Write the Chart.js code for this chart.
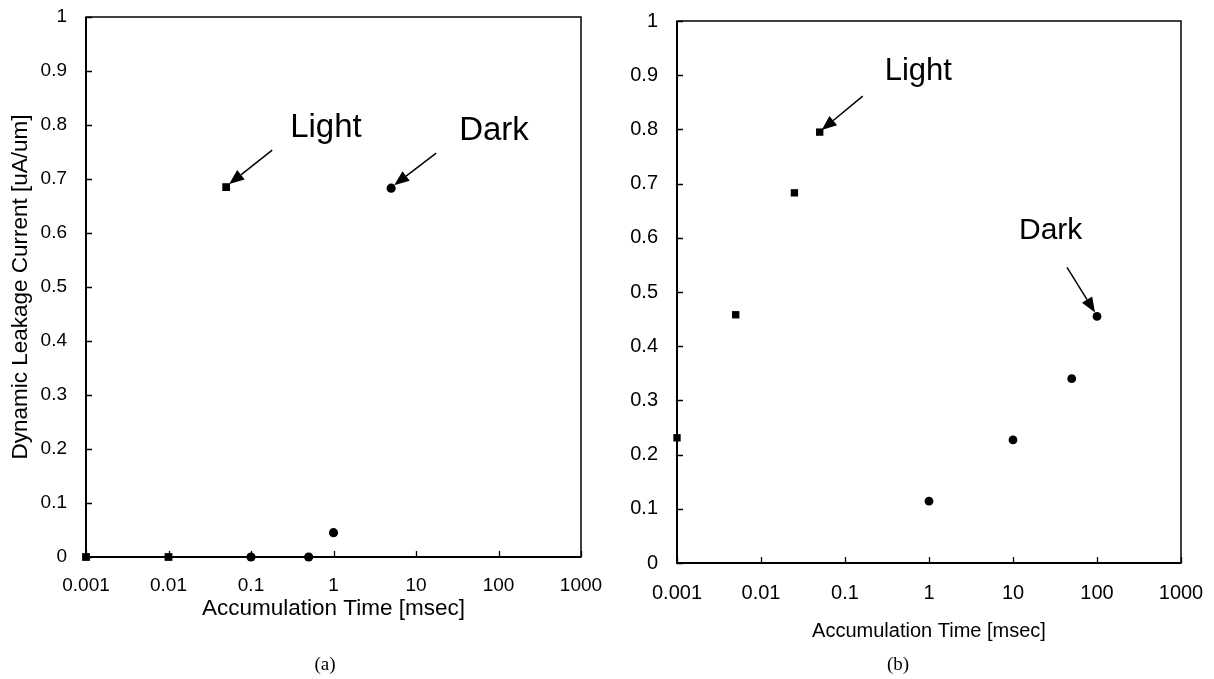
<!DOCTYPE html>
<html><head><meta charset="utf-8">
<script src="https://cdn.jsdelivr.net/npm/chart.js@4.4.1/dist/chart.umd.min.js"></script>
<style>
html,body{margin:0;padding:0;background:#fff;overflow:hidden}
#wrap{position:relative;width:1214px;height:679px;background:#fff}
.box{position:absolute;top:0;width:607px;height:679px}
</style></head><body>
<div id="wrap">
<div class="box" style="left:0"><canvas id="ca" width="607" height="679"></canvas></div>
<div class="box" style="left:607px"><canvas id="cb" width="607" height="679"></canvas></div>
</div>
<script>
// ---- data ----
const xTickValues = [0.001, 0.01, 0.1, 1, 10, 100, 1000];
const xTickLabels = ['0.001', '0.01', '0.1', '1', '10', '100', '1000'];
const yTickValues = [0, 0.1, 0.2, 0.3, 0.4, 0.5, 0.6, 0.7, 0.8, 0.9, 1];
const yTickLabels = ['0', '0.1', '0.2', '0.3', '0.4', '0.5', '0.6', '0.7', '0.8', '0.9', '1'];

const xTitle = 'Accumulation Time [msec]';
const yTitle = 'Dynamic Leakage Current [uA/um]';

// panel (a)
const aLightTime = [0.001, 0.01, 0.05];
const aLightCurrent = [0, 0, 0.685];
const aDarkTime = [0.1, 0.5, 1, 5];
const aDarkCurrent = [0, 0, 0.045, 0.683];

// panel (b)
const bLightTime = [0.001, 0.005, 0.025, 0.05];
const bLightCurrent = [0.231, 0.458, 0.683, 0.795];
const bDarkTime = [1, 10, 50, 100];
const bDarkCurrent = [0.114, 0.227, 0.34, 0.455];

const FONT = "'Liberation Sans', Arial, sans-serif";

function pts(xs, ys) { return xs.map((x, i) => ({ x: x, y: ys[i] })); }

const framePlugin = {
  id: 'frame',
  beforeDatasetsDraw(chart, args, o) {
    const { ctx, chartArea: a, scales: { x, y } } = chart;
    ctx.save();
    ctx.strokeStyle = '#000';
    ctx.lineCap = 'butt';
    ctx.lineWidth = 1.3;
    ctx.beginPath();
    x.ticks.forEach(t => {
      const px = Math.round(x.getPixelForValue(t.value)) + 0.5;
      ctx.moveTo(px, a.bottom); ctx.lineTo(px, a.bottom - o.tickLen);
    });
    y.ticks.forEach(t => {
      const py = Math.round(y.getPixelForValue(t.value)) + 0.5;
      ctx.moveTo(a.left, py); ctx.lineTo(a.left + o.tickLen, py);
    });
    ctx.stroke();
    ctx.lineWidth = 1.5;
    ctx.strokeRect(a.left, a.top, a.right - a.left, a.bottom - a.top);
    ctx.lineWidth = 2;
    ctx.beginPath();
    ctx.moveTo(a.left, a.top); ctx.lineTo(a.left, a.bottom); ctx.lineTo(a.right, a.bottom);
    ctx.stroke();
    ctx.restore();
  },
  afterDatasetsDraw(chart, args, o) {
    const { ctx, scales: { x, y } } = chart;
    ctx.save();
    ctx.fillStyle = '#000';
    ctx.strokeStyle = '#000';
    (o.notes || []).forEach(n => {
      const d = chart.data.datasets[n.ds].data[n.idx];
      const px = x.getPixelForValue(d.x), py = y.getPixelForValue(d.y);
      ctx.font = n.size + 'px ' + FONT;
      ctx.textAlign = 'left';
      ctx.textBaseline = 'alphabetic';
      ctx.fillText(n.text, px + n.tx, py + n.ty);
      const x0 = px + n.ax, y0 = py + n.ay, x1 = px + n.hx, y1 = py + n.hy;
      const ang = Math.atan2(y1 - y0, x1 - x0);
      const L = 15, W = 6;
      const bx = x1 - L * Math.cos(ang), by = y1 - L * Math.sin(ang);
      ctx.lineWidth = 1.5;
      ctx.beginPath(); ctx.moveTo(x0, y0); ctx.lineTo(bx, by); ctx.stroke();
      ctx.beginPath();
      ctx.moveTo(x1, y1);
      ctx.lineTo(bx + W * Math.sin(ang), by - W * Math.cos(ang));
      ctx.lineTo(bx - W * Math.sin(ang), by + W * Math.cos(ang));
      ctx.closePath(); ctx.fill();
    });
    ctx.font = o.capSize + "px 'Liberation Serif', 'Times New Roman', serif";
    ctx.textAlign = 'center';
    ctx.textBaseline = 'middle';
    ctx.fillText(o.caption, o.capX, o.capY);
    ctx.restore();
  }
};

function makeChart(id, cfg) {
  return new Chart(document.getElementById(id), {
    type: 'scatter',
    data: {
      datasets: [
        { label: 'Light', data: cfg.light, pointStyle: 'rect', pointRadius: cfg.rectR, pointHoverRadius: cfg.rectR,
          backgroundColor: '#000', borderColor: '#000', borderWidth: 0, clip: false },
        { label: 'Dark', data: cfg.dark, pointStyle: 'circle', pointRadius: cfg.circR, pointHoverRadius: cfg.circR,
          backgroundColor: '#000', borderColor: '#000', borderWidth: 0, clip: false }
      ]
    },
    options: {
      responsive: false,
      animation: false,
      devicePixelRatio: 1,
      layout: { padding: cfg.pad },
      plugins: {
        legend: { display: false },
        tooltip: { enabled: false },
        frame: cfg.frame
      },
      scales: {
        x: {
          type: 'logarithmic',
          min: xTickValues[0], max: xTickValues[xTickValues.length - 1],
          afterBuildTicks: s => { s.ticks = xTickValues.map(v => ({ value: v })); },
          afterFit: s => { s.height = cfg.xH; s.paddingLeft = 0; s.paddingRight = 0; },
          grid: { display: false, drawTicks: false },
          border: { display: false },
          ticks: {
            autoSkip: false, maxRotation: 0, minRotation: 0,
            padding: cfg.xTickPad, color: '#000',
            font: { family: FONT, size: cfg.tickSize },
            callback: (v, i) => xTickLabels[i]
          },
          title: {
            display: true, text: xTitle, color: '#000',
            font: { family: FONT, size: cfg.titleSize },
            padding: { top: 0, bottom: cfg.xTitlePad }
          }
        },
        y: {
          type: 'linear',
          min: yTickValues[0], max: yTickValues[yTickValues.length - 1],
          afterBuildTicks: s => { s.ticks = yTickValues.map(v => ({ value: v })); },
          afterFit: s => { s.width = cfg.yW; s.paddingTop = 0; s.paddingBottom = 0; },
          grid: { display: false, drawTicks: false },
          border: { display: false },
          ticks: {
            padding: 19, color: '#000',
            font: { family: FONT, size: cfg.tickSize },
            callback: (v, i) => yTickLabels[i]
          },
          title: {
            display: cfg.showYTitle, text: yTitle, color: '#000',
            font: { family: FONT, size: cfg.titleSize },
            padding: { top: 7, bottom: 0 }
          }
        }
      }
    },
    plugins: [framePlugin]
  });
}

makeChart('ca', {
  light: pts(aLightTime, aLightCurrent),
  dark: pts(aDarkTime, aDarkCurrent),
  rectR: 5.5, circR: 4.6,
  pad: { left: 0, top: 17, right: 26, bottom: 0 },
  xH: 122, yW: 86, xTickPad: 17, xTitlePad: 57,
  tickSize: 19, titleSize: 22.5, showYTitle: true,
  frame: {
    tickLen: 6,
    caption: '(a)', capX: 325, capY: 665, capSize: 19,
    notes: [
      { ds: 0, idx: 2, text: 'Light', size: 33, tx: 64, ty: -50, ax: 46, ay: -37, hx: 3, hy: -3 },
      { ds: 1, idx: 3, text: 'Dark', size: 33, tx: 68, ty: -48, ax: 45, ay: -35, hx: 3, hy: -3 }
    ]
  }
});

makeChart('cb', {
  light: pts(bLightTime, bLightCurrent),
  dark: pts(bDarkTime, bDarkCurrent),
  rectR: 5.2, circR: 4.4,
  pad: { left: 0, top: 21, right: 33, bottom: 0 },
  xH: 116, yW: 70, xTickPad: 18, xTitlePad: 36,
  tickSize: 20, titleSize: 20, showYTitle: false,
  frame: {
    tickLen: 6,
    caption: '(b)', capX: 291, capY: 665, capSize: 19,
    notes: [
      { ds: 0, idx: 3, text: 'Light', size: 31, tx: 65, ty: -52, ax: 43, ay: -36, hx: 2, hy: -2 },
      { ds: 1, idx: 3, text: 'Dark', size: 30, tx: -78, ty: -77, ax: -30, ay: -49, hx: -2, hy: -4 }
    ]
  }
});
</script>
</body></html>
